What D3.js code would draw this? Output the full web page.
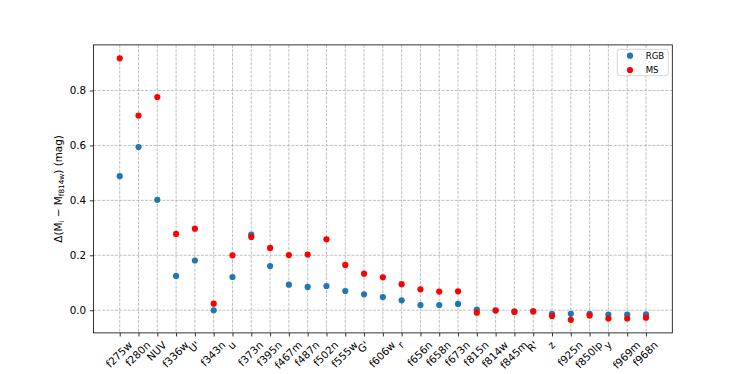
<!DOCTYPE html>
<html>
<head>
<meta charset="utf-8">
<script src="https://cdn.jsdelivr.net/npm/d3@7"></script>
<style>
  body { margin: 0; background: #fff; }
  text { font-family: "DejaVu Sans", sans-serif; }
</style>
</head>
<body>
<div id="chart"></div>
<script>
// filters along the x axis
const filters = ['f275w', 'f280n', 'NUV', 'f336w', "U'", 'f343n', 'u', 'f373n', 'f395n', 'f467m',
  'f487n', 'f502n', 'f555w', "G'", 'f606w', 'r', 'f656n', 'f658n', 'f673n', 'f815n',
  'f814w', 'f845m', "R'", 'z', 'f925n', 'f850lp', 'y', 'f969m', 'f968n']

const rgbValues = [0.488, 0.594, 0.402, 0.125, 0.181, 0.0, 0.121, 0.275, 0.161, 0.093,
  0.085, 0.088, 0.070, 0.058, 0.048, 0.036, 0.019, 0.019, 0.023, 0.002,
  0.0, -0.004, -0.003, -0.013, -0.013, -0.013, -0.016, -0.016, -0.015]

const msValues = [0.917, 0.709, 0.776, 0.278, 0.297, 0.024, 0.200, 0.267, 0.227, 0.201,
  0.203, 0.258, 0.165, 0.133, 0.120, 0.095, 0.076, 0.068, 0.069, -0.009,
  -0.001, -0.006, -0.005, -0.021, -0.035, -0.019, -0.030, -0.030, -0.027]

const yTicks = [0.0, 0.2, 0.4, 0.6, 0.8]

const W = 747
const H = 374
const margin = { top: 44.9, right: 74.7, bottom: 41.1, left: 93.4 }
const width = W - margin.left - margin.right
const height = H - margin.top - margin.bottom

const svg = d3.select('#chart').append('svg')
  .attr('width', W)
  .attr('height', H)

const g = svg.append('g')
  .attr('transform', 'translate(' + margin.left + ',' + margin.top + ')')

// matplotlib style 5% padding on the index axis
const n = filters.length
const x = d3.scaleLinear().domain([-0.05 * (n - 1), (n - 1) * 1.05]).range([0, width])
const y = d3.scaleLinear().domain([-0.0825, 0.966]).range([height, 0])

const gridColor = '#b0b0b0'

// grid lines
g.append('g').selectAll('line')
  .data(filters)
  .enter().append('line')
  .attr('x1', (d, i) => x(i)).attr('x2', (d, i) => x(i))
  .attr('y1', 0).attr('y2', height)
  .attr('stroke', gridColor).attr('stroke-width', 0.8)
  .attr('stroke-dasharray', '3,1.3')

g.append('g').selectAll('line')
  .data(yTicks)
  .enter().append('line')
  .attr('x1', 0).attr('x2', width)
  .attr('y1', d => y(d)).attr('y2', d => y(d))
  .attr('stroke', gridColor).attr('stroke-width', 0.8)
  .attr('stroke-dasharray', '3,1.3')

// y axis
const yAxis = d3.axisLeft(y).tickValues(yTicks).tickFormat(d3.format('.1f'))
  .tickSize(3.6).tickPadding(3.6)
const yg = g.append('g').call(yAxis)
yg.select('.domain').remove()
yg.selectAll('text').attr('font-size', 10.4).attr('fill', '#000')
  .attr('font-family', '"DejaVu Sans", sans-serif')
yg.selectAll('line').attr('stroke', '#000').attr('stroke-width', 0.8)

// x axis ticks, labels are placed by hand below
const xAxis = d3.axisBottom(x).tickValues(d3.range(n)).tickFormat('')
  .tickSize(3.6)
const xg = g.append('g').attr('transform', 'translate(0,' + height + ')').call(xAxis)
xg.select('.domain').remove()
xg.selectAll('line').attr('stroke', '#000').attr('stroke-width', 0.8)

// rotated labels, bounding box centred on the tick like matplotlib
const fs = 10.4
const asc = fs * 0.76
const desc = fs * 0.24
const r2 = Math.SQRT2
const labelTop = height + 3.6 + 3.6
g.append('g').selectAll('text')
  .data(filters)
  .enter().append('text')
  .attr('font-size', fs)
  .attr('text-anchor', 'end')
  .text(d => d)
  .each(function (d, i) {
    const w = this.getComputedTextLength()
    const px = x(i) + (w + asc - desc) / (2 * r2)
    const py = labelTop + asc / r2
    d3.select(this).attr('transform', 'translate(' + px + ',' + py + ') rotate(-45)')
  })

// spines
g.append('rect')
  .attr('x', 0).attr('y', 0)
  .attr('width', width).attr('height', height)
  .attr('fill', 'none').attr('stroke', '#000').attr('stroke-width', 0.8)

// y label
const yl = svg.append('text')
  .attr('transform', 'translate(62,' + (margin.top + height / 2) + ') rotate(-90)')
  .attr('text-anchor', 'middle')
  .attr('font-size', 10.4)
yl.append('tspan').text('Δ(M')
yl.append('tspan').text('i').attr('font-size', 7.3).attr('dy', 2.2)
yl.append('tspan').text(' − M').attr('dy', -2.2)
yl.append('tspan').text('f814w').attr('font-size', 7.3).attr('dy', 2.2)
yl.append('tspan').text(') (mag)').attr('dy', -2.2)

// points
const r = 3.1
g.append('g').selectAll('circle')
  .data(rgbValues)
  .enter().append('circle')
  .attr('cx', (d, i) => x(i))
  .attr('cy', d => y(d))
  .attr('r', r)
  .attr('fill', '#1f77b4')

g.append('g').selectAll('circle')
  .data(msValues)
  .enter().append('circle')
  .attr('cx', (d, i) => x(i))
  .attr('cy', d => y(d))
  .attr('r', r)
  .attr('fill', 'red')

// legend
const legend = svg.append('g').attr('transform', 'translate(617.3,49.3)')
legend.append('rect')
  .attr('width', 51).attr('height', 26.4)
  .attr('rx', 2.5)
  .attr('fill', '#fff').attr('fill-opacity', 0.8)
  .attr('stroke', '#cccccc').attr('stroke-width', 0.8)

const series = [{ name: 'RGB', color: '#1f77b4' }, { name: 'MS', color: 'red' }]
series.forEach((s, i) => {
  legend.append('circle')
    .attr('cx', 12.7).attr('cy', 6.4 + i * 14.3)
    .attr('r', r).attr('fill', s.color)
  legend.append('text')
    .attr('x', 28.4).attr('y', 6.4 + i * 14.3 + 3.1)
    .attr('font-size', 8.6)
    .text(s.name)
})
</script>
</body>
</html>
